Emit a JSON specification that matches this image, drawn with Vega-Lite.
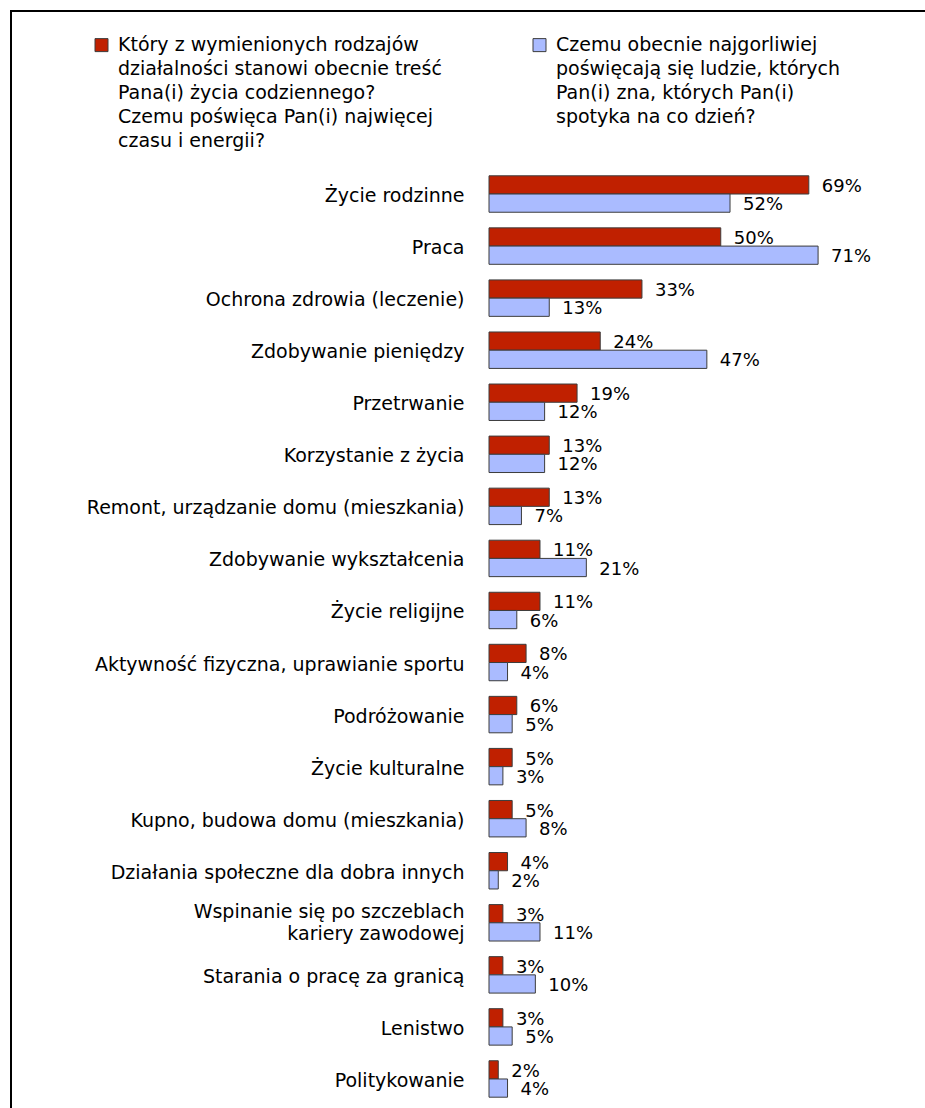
{
  "$schema": "https://vega.github.io/schema/vega-lite/v6.json",
  "autosize": {"type": "none"},
  "width": 914,
  "height": 1097,
  "padding": {"left": 11, "top": 11, "right": 0, "bottom": 0},
  "background": "white",
  "data": {
    "values": [
      {"activity": "Życie rodzinne", "series": "self", "share": 0.69},
      {"activity": "Życie rodzinne", "series": "others", "share": 0.52},
      {"activity": "Praca", "series": "self", "share": 0.50},
      {"activity": "Praca", "series": "others", "share": 0.71},
      {"activity": "Ochrona zdrowia (leczenie)", "series": "self", "share": 0.33},
      {"activity": "Ochrona zdrowia (leczenie)", "series": "others", "share": 0.13},
      {"activity": "Zdobywanie pieniędzy", "series": "self", "share": 0.24},
      {"activity": "Zdobywanie pieniędzy", "series": "others", "share": 0.47},
      {"activity": "Przetrwanie", "series": "self", "share": 0.19},
      {"activity": "Przetrwanie", "series": "others", "share": 0.12},
      {"activity": "Korzystanie z życia", "series": "self", "share": 0.13},
      {"activity": "Korzystanie z życia", "series": "others", "share": 0.12},
      {"activity": "Remont, urządzanie domu (mieszkania)", "series": "self", "share": 0.13},
      {"activity": "Remont, urządzanie domu (mieszkania)", "series": "others", "share": 0.07},
      {"activity": "Zdobywanie wykształcenia", "series": "self", "share": 0.11},
      {"activity": "Zdobywanie wykształcenia", "series": "others", "share": 0.21},
      {"activity": "Życie religijne", "series": "self", "share": 0.11},
      {"activity": "Życie religijne", "series": "others", "share": 0.06},
      {"activity": "Aktywność fizyczna, uprawianie sportu", "series": "self", "share": 0.08},
      {"activity": "Aktywność fizyczna, uprawianie sportu", "series": "others", "share": 0.04},
      {"activity": "Podróżowanie", "series": "self", "share": 0.06},
      {"activity": "Podróżowanie", "series": "others", "share": 0.05},
      {"activity": "Życie kulturalne", "series": "self", "share": 0.05},
      {"activity": "Życie kulturalne", "series": "others", "share": 0.03},
      {"activity": "Kupno, budowa domu (mieszkania)", "series": "self", "share": 0.05},
      {"activity": "Kupno, budowa domu (mieszkania)", "series": "others", "share": 0.08},
      {"activity": "Działania społeczne dla dobra innych", "series": "self", "share": 0.04},
      {"activity": "Działania społeczne dla dobra innych", "series": "others", "share": 0.02},
      {"activity": "Wspinanie się po szczeblach kariery zawodowej", "series": "self", "share": 0.03},
      {"activity": "Wspinanie się po szczeblach kariery zawodowej", "series": "others", "share": 0.11},
      {"activity": "Starania o pracę za granicą", "series": "self", "share": 0.03},
      {"activity": "Starania o pracę za granicą", "series": "others", "share": 0.10},
      {"activity": "Lenistwo", "series": "self", "share": 0.03},
      {"activity": "Lenistwo", "series": "others", "share": 0.05},
      {"activity": "Politykowanie", "series": "self", "share": 0.02},
      {"activity": "Politykowanie", "series": "others", "share": 0.04}
    ]
  },
  "encoding": {
    "y": {
      "field": "activity",
      "type": "nominal",
      "sort": null,
      "scale": {"range": [157, 1094], "paddingInner": 0.3, "paddingOuter": 0.15},
      "axis": {
        "orient": "left",
        "offset": -478,
        "title": null,
        "domain": false,
        "ticks": false,
        "tickSize": 0,
        "grid": false,
        "labelPadding": 25,
        "labelFont": "DejaVu Sans",
        "labelFontSize": 19,
        "labelColor": "black",
        "labelLimit": 500,
        "labelLineHeight": 22,
        "labelOffset": {
          "condition": {"test": "datum.value == 'Wspinanie się po szczeblach kariery zawodowej'", "value": -11},
          "value": 2
        },
        "labelExpr": "datum.label == 'Wspinanie się po szczeblach kariery zawodowej' ? ['Wspinanie się po szczeblach', 'kariery zawodowej'] : datum.label"
      }
    },
    "yOffset": {
      "field": "series",
      "type": "nominal",
      "sort": ["self", "others"],
      "scale": {"paddingInner": 0, "paddingOuter": 0}
    },
    "x": {
      "field": "share",
      "type": "quantitative",
      "scale": {"domain": [0, 1], "range": [478, 941.5]},
      "axis": null
    }
  },
  "layer": [
    {
      "mark": {"type": "bar", "stroke": "#3c3c3c", "strokeWidth": 1},
      "encoding": {
        "color": {
          "field": "series",
          "type": "nominal",
          "sort": ["self", "others"],
          "scale": {"domain": ["self", "others"], "range": ["#c02000", "#aabbff"]},
          "legend": {
            "orient": "none",
            "legendX": 81,
            "legendY": 15,
            "direction": "horizontal",
            "columns": 2,
            "title": null,
            "symbolType": "M-1,0.44H1V2.44H-1Z",
            "symbolSize": 169,
            "symbolStrokeColor": "#3c3c3c",
            "symbolStrokeWidth": 1,
            "labelFont": "DejaVu Sans",
            "labelFontSize": 19,
            "labelColor": "black",
            "labelBaseline": "top",
            "labelOffset": 7,
            "labelLimit": 600,
            "columnPadding": 88,
            "labelExpr": "datum.value == 'self' ? ['Który z wymienionych rodzajów', 'działalności stanowi obecnie treść', 'Pana(i) życia codziennego?', 'Czemu poświęca Pan(i) najwięcej', 'czasu i energii?'] : ['Czemu obecnie najgorliwiej', 'poświęcają się ludzie, których', 'Pan(i) zna, których Pan(i)', 'spotyka na co dzień?', '']"
          }
        }
      }
    },
    {
      "mark": {
        "type": "text",
        "align": "left",
        "baseline": "middle",
        "dx": 13,
        "dy": 2,
        "font": "DejaVu Sans",
        "fontSize": 18,
        "color": "black"
      },
      "encoding": {
        "text": {"field": "share", "type": "quantitative", "format": ".0%"}
      }
    }
  ],
  "config": {
    "font": "DejaVu Sans",
    "view": {"stroke": "black", "strokeWidth": 2, "strokeDash": [914, 2011, 1097]},
    "style": {"guide-label": {"lineHeight": 24}}
  }
}
